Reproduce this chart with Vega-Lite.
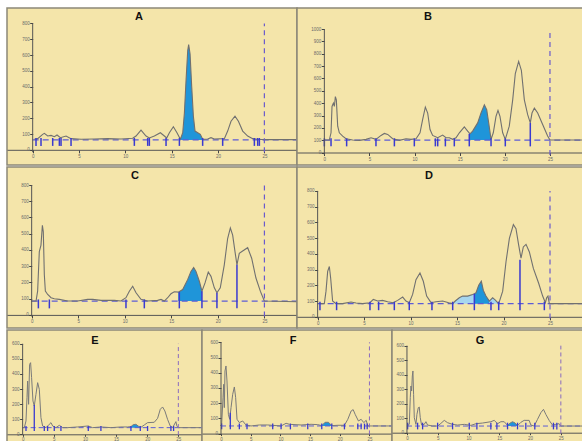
{
"$schema":"https://vega.github.io/schema/vega-lite/v6.json",
"background":"white",
"padding":{"left":6,"top":7,"right":0,"bottom":0},
"spacing":0,
"config":{
 "view":{"fill":"#F4E5AA","stroke":"#8C8878","strokeWidth":1.5},
 "concat":{"spacing":0},
 "axis":{"grid":false,"tickSize":3,"tickColor":"#444444","domainColor":"#555555","labelFontSize":4.5,"labelColor":"#6a6a6a","labelPadding":0.5,"labelFont":"Liberation Sans","labelOverlap":false,"labelBound":false,"labelFlush":false,"format":"d"},
 "axisY":{"domain":false},
 "title":{"fontSize":11,"fontWeight":"bold","font":"Liberation Sans","color":"#111111","offset":-14,"baseline":"alphabetic","anchor":"middle","frame":"group"}
},
"datasets":{
"panels":[
{"p":"A","base":62.5,"top":800,"lo":25,"start":0,"stop":28.52,"end":25,"yb":-15},
{"p":"B","base":101.3,"top":1000,"lo":50,"start":0,"stop":28.66,"end":25,"yb":-20},
{"p":"C","base":85.2,"top":800,"lo":40,"start":0,"stop":28.5,"end":25,"yb":-10},
{"p":"D","base":83.7,"top":800,"lo":42,"start":0,"stop":28.55,"end":25,"yb":-10},
{"p":"E","base":44.1,"top":600,"lo":22,"start":0,"stop":28.8,"end":25,"yb":-5},
{"p":"F","base":50.4,"top":600,"lo":28,"start":0,"stop":28.8,"end":25,"yb":-5},
{"p":"G","base":46,"top":600,"lo":23,"start":0,"stop":28.6,"end":25,"yb":-5}
],
"marks":[
{"p":"A","t":0.36,"hi":75},{"p":"A","t":0.9,"hi":75},{"p":"A","t":2.16,"hi":75},{"p":"A","t":2.88,"hi":75},{"p":"A","t":3.06,"hi":75},{"p":"A","t":4.14,"hi":75},{"p":"A","t":10.97,"hi":75},{"p":"A","t":12.41,"hi":75},{"p":"A","t":12.59,"hi":75},{"p":"A","t":14.39,"hi":75},{"p":"A","t":15.83,"hi":75},{"p":"A","t":18.34,"hi":75},{"p":"A","t":20.5,"hi":75},{"p":"A","t":23.92,"hi":75},{"p":"A","t":24.28,"hi":75},{"p":"A","t":24.46,"hi":75},
{"p":"B","t":0,"hi":115},{"p":"B","t":0.74,"hi":115},{"p":"B","t":2.47,"hi":115},{"p":"B","t":5.72,"hi":115},{"p":"B","t":7.76,"hi":115},{"p":"B","t":9.97,"hi":115},{"p":"B","t":12.3,"hi":115},{"p":"B","t":12.56,"hi":115},{"p":"B","t":13.41,"hi":115},{"p":"B","t":14.4,"hi":115},{"p":"B","t":16.06,"hi":152},{"p":"B","t":18.47,"hi":115},{"p":"B","t":20.05,"hi":115},{"p":"B","t":22.82,"hi":240},
{"p":"C","t":0.72,"hi":95},{"p":"C","t":1.9,"hi":95},{"p":"C","t":10.13,"hi":95},{"p":"C","t":12.1,"hi":95},{"p":"C","t":15.86,"hi":140},{"p":"C","t":18.29,"hi":146},{"p":"C","t":19.9,"hi":136},{"p":"C","t":22.05,"hi":308},
{"p":"D","t":0.25,"hi":96},{"p":"D","t":2.04,"hi":96},{"p":"D","t":5.63,"hi":96},{"p":"D","t":6.56,"hi":96},{"p":"D","t":8.25,"hi":96},{"p":"D","t":9.86,"hi":96},{"p":"D","t":12.3,"hi":96},{"p":"D","t":14.53,"hi":96},{"p":"D","t":16.86,"hi":146},{"p":"D","t":18.65,"hi":96},{"p":"D","t":19.48,"hi":96},{"p":"D","t":21.77,"hi":362},{"p":"D","t":24.39,"hi":96},
{"p":"E","t":0.54,"hi":55},{"p":"E","t":1.87,"hi":194},{"p":"E","t":3.48,"hi":55},{"p":"E","t":4.01,"hi":55},{"p":"E","t":5.08,"hi":55},{"p":"E","t":6.15,"hi":55},{"p":"E","t":10.54,"hi":55},{"p":"E","t":12.57,"hi":55},{"p":"E","t":17.39,"hi":55},{"p":"E","t":18.89,"hi":55},{"p":"E","t":20.06,"hi":55},{"p":"E","t":23.81,"hi":55},{"p":"E","t":24.24,"hi":55},
{"p":"F","t":0.11,"hi":66},{"p":"F","t":1.57,"hi":138},{"p":"F","t":3.09,"hi":66},{"p":"F","t":4.38,"hi":66},{"p":"F","t":8.71,"hi":66},{"p":"F","t":10.12,"hi":66},{"p":"F","t":11.69,"hi":66},{"p":"F","t":14.61,"hi":66},{"p":"F","t":16.97,"hi":66},{"p":"F","t":18.66,"hi":66},{"p":"F","t":20.79,"hi":66},{"p":"F","t":23.04,"hi":66},{"p":"F","t":23.6,"hi":66},{"p":"F","t":24.17,"hi":66},{"p":"F","t":24.62,"hi":66},
{"p":"G","t":0.11,"hi":69},{"p":"G","t":1.73,"hi":69},{"p":"G","t":2.54,"hi":69},{"p":"G","t":4.98,"hi":69},{"p":"G","t":7.41,"hi":69},{"p":"G","t":10.12,"hi":69},{"p":"G","t":11.36,"hi":69},{"p":"G","t":13.63,"hi":69},{"p":"G","t":14.61,"hi":69},{"p":"G","t":16.34,"hi":69},{"p":"G","t":17.96,"hi":69},{"p":"G","t":19.31,"hi":69},{"p":"G","t":20.77,"hi":69},{"p":"G","t":23.8,"hi":69},{"p":"G","t":24.35,"hi":69}
],
"trace":[
{"p":"A","t":0.18,"v":66.7},{"p":"A","t":0.54,"v":70.8},{"p":"A","t":1.08,"v":97.9},{"p":"A","t":1.26,"v":104.2},{"p":"A","t":1.62,"v":87.5},{"p":"A","t":1.98,"v":91.6},{"p":"A","t":2.34,"v":83.3},{"p":"A","t":2.63,"v":93.7},{"p":"A","t":2.99,"v":77.1},{"p":"A","t":3.6,"v":87.5},{"p":"A","t":4.14,"v":70.8},{"p":"A","t":5.22,"v":66.7},{"p":"A","t":6.65,"v":68.7},{"p":"A","t":8.09,"v":70.8},{"p":"A","t":9.53,"v":68.7},{"p":"A","t":10.79,"v":72.9},{"p":"A","t":11.15,"v":87.5},{"p":"A","t":11.69,"v":124.9},{"p":"A","t":12.23,"v":87.5},{"p":"A","t":12.59,"v":74.9},{"p":"A","t":13.13,"v":87.5},{"p":"A","t":13.78,"v":108.3},{"p":"A","t":14.21,"v":87.5},{"p":"A","t":14.46,"v":74.9},{"p":"A","t":14.75,"v":108.3},{"p":"A","t":15.18,"v":145.8},{"p":"A","t":15.57,"v":108.3},{"p":"A","t":15.94,"v":66.7},{"p":"A","t":16.19,"v":108.3},{"p":"A","t":16.37,"v":233.3},{"p":"A","t":16.55,"v":441.6},{"p":"A","t":16.73,"v":629.1},{"p":"A","t":16.83,"v":666.6},{"p":"A","t":16.98,"v":608.2},{"p":"A","t":17.16,"v":399.9},{"p":"A","t":17.34,"v":212.5},{"p":"A","t":17.52,"v":118.7},{"p":"A","t":17.81,"v":108.3},{"p":"A","t":18.09,"v":97.9},{"p":"A","t":18.34,"v":66.7},{"p":"A","t":18.88,"v":68.7},{"p":"A","t":19.24,"v":77.1},{"p":"A","t":19.6,"v":68.7},{"p":"A","t":20.68,"v":70.8},{"p":"A","t":21.04,"v":118.7},{"p":"A","t":21.4,"v":181.2},{"p":"A","t":21.83,"v":212.5},{"p":"A","t":22.2,"v":181.2},{"p":"A","t":22.66,"v":118.7},{"p":"A","t":23.2,"v":87.5},{"p":"A","t":23.74,"v":70.8},{"p":"A","t":24.28,"v":66.7},{"p":"A","t":25,"v":64.6},{"p":"A","t":28.42,"v":64.6},
{"p":"B","t":0,"v":101.3},{"p":"B","t":0.55,"v":101.3},{"p":"B","t":0.74,"v":160},{"p":"B","t":0.85,"v":373.4},{"p":"B","t":1.0,"v":400},{"p":"B","t":1.11,"v":373.4},{"p":"B","t":1.22,"v":453.4},{"p":"B","t":1.33,"v":426.7},{"p":"B","t":1.48,"v":213.4},{"p":"B","t":1.66,"v":160},{"p":"B","t":2.03,"v":133.4},{"p":"B","t":2.4,"v":112},{"p":"B","t":3.14,"v":101.3},{"p":"B","t":3.88,"v":98.7},{"p":"B","t":4.62,"v":106.7},{"p":"B","t":5.17,"v":120},{"p":"B","t":5.72,"v":106.7},{"p":"B","t":6.28,"v":138.7},{"p":"B","t":6.65,"v":154.7},{"p":"B","t":7.02,"v":146.7},{"p":"B","t":7.57,"v":112},{"p":"B","t":8.31,"v":98.7},{"p":"B","t":9.05,"v":112},{"p":"B","t":9.6,"v":106.7},{"p":"B","t":10.16,"v":112},{"p":"B","t":10.6,"v":160},{"p":"B","t":10.89,"v":266.7},{"p":"B","t":11.19,"v":368},{"p":"B","t":11.45,"v":320},{"p":"B","t":11.71,"v":186.7},{"p":"B","t":12.0,"v":138.7},{"p":"B","t":12.56,"v":120},{"p":"B","t":13.11,"v":141.3},{"p":"B","t":13.48,"v":120},{"p":"B","t":13.85,"v":120},{"p":"B","t":14.22,"v":106.7},{"p":"B","t":14.59,"v":120},{"p":"B","t":14.96,"v":160},{"p":"B","t":15.51,"v":208},{"p":"B","t":15.88,"v":173.4},{"p":"B","t":16.14,"v":152},{"p":"B","t":16.43,"v":173.4},{"p":"B","t":16.99,"v":240},{"p":"B","t":17.36,"v":320},{"p":"B","t":17.73,"v":386.7},{"p":"B","t":17.99,"v":346.7},{"p":"B","t":18.21,"v":240},{"p":"B","t":18.47,"v":106.7},{"p":"B","t":18.72,"v":160},{"p":"B","t":19.02,"v":293.4},{"p":"B","t":19.24,"v":341.4},{"p":"B","t":19.46,"v":293.4},{"p":"B","t":19.76,"v":160},{"p":"B","t":20.05,"v":106.7},{"p":"B","t":20.49,"v":213.4},{"p":"B","t":20.87,"v":426.7},{"p":"B","t":21.16,"v":640},{"p":"B","t":21.53,"v":738.7},{"p":"B","t":21.83,"v":666.7},{"p":"B","t":22.16,"v":426.7},{"p":"B","t":22.53,"v":306.7},{"p":"B","t":22.82,"v":240},{"p":"B","t":23.01,"v":320},{"p":"B","t":23.27,"v":360},{"p":"B","t":23.64,"v":320},{"p":"B","t":24.19,"v":226.7},{"p":"B","t":24.74,"v":133.4},{"p":"B","t":25.0,"v":101.3},{"p":"B","t":28.66,"v":101.3},
{"p":"C","t":-0.07,"v":85.2},{"p":"C","t":0.47,"v":85.2},{"p":"C","t":0.64,"v":146},{"p":"C","t":0.82,"v":389.4},{"p":"C","t":1.0,"v":430},{"p":"C","t":1.15,"v":551.6},{"p":"C","t":1.25,"v":511.1},{"p":"C","t":1.36,"v":247.4},{"p":"C","t":1.47,"v":146},{"p":"C","t":1.72,"v":125.7},{"p":"C","t":2.08,"v":105.5},{"p":"C","t":2.43,"v":99.4},{"p":"C","t":2.97,"v":95.3},{"p":"C","t":3.87,"v":85.2},{"p":"C","t":4.94,"v":85.2},{"p":"C","t":6.01,"v":95.3},{"p":"C","t":6.55,"v":95.3},{"p":"C","t":7.45,"v":89.2},{"p":"C","t":8.88,"v":89.2},{"p":"C","t":9.59,"v":85.2},{"p":"C","t":10.13,"v":105.5},{"p":"C","t":10.49,"v":146},{"p":"C","t":10.85,"v":176.4},{"p":"C","t":11.21,"v":135.9},{"p":"C","t":11.74,"v":95.3},{"p":"C","t":12.46,"v":85.2},{"p":"C","t":13.53,"v":89.2},{"p":"C","t":13.89,"v":95.3},{"p":"C","t":14.25,"v":85.2},{"p":"C","t":14.61,"v":105.5},{"p":"C","t":14.96,"v":129.8},{"p":"C","t":15.32,"v":142},{"p":"C","t":15.75,"v":139.9},{"p":"C","t":16.22,"v":156.2},{"p":"C","t":16.75,"v":217},{"p":"C","t":17.11,"v":267.7},{"p":"C","t":17.4,"v":292.1},{"p":"C","t":17.65,"v":267.7},{"p":"C","t":18.01,"v":206.9},{"p":"C","t":18.29,"v":146},{"p":"C","t":18.62,"v":196.7},{"p":"C","t":18.97,"v":263.6},{"p":"C","t":19.26,"v":237.3},{"p":"C","t":19.62,"v":166.3},{"p":"C","t":19.9,"v":135.9},{"p":"C","t":20.26,"v":166.3},{"p":"C","t":20.69,"v":308.3},{"p":"C","t":21.05,"v":470.5},{"p":"C","t":21.34,"v":535.4},{"p":"C","t":21.59,"v":490.8},{"p":"C","t":21.84,"v":389.4},{"p":"C","t":22.05,"v":308.3},{"p":"C","t":22.3,"v":379.3},{"p":"C","t":22.66,"v":393.5},{"p":"C","t":23.2,"v":413.8},{"p":"C","t":23.63,"v":348.9},{"p":"C","t":24.09,"v":227.1},{"p":"C","t":24.56,"v":146},{"p":"C","t":24.99,"v":85.2},{"p":"C","t":28.5,"v":81.1},
{"p":"D","t":0.18,"v":83.7},{"p":"D","t":0.72,"v":83.7},{"p":"D","t":0.9,"v":163.2},{"p":"D","t":1.08,"v":288.7},{"p":"D","t":1.26,"v":320.1},{"p":"D","t":1.4,"v":246.9},{"p":"D","t":1.61,"v":100.4},{"p":"D","t":1.97,"v":83.7},{"p":"D","t":2.69,"v":83.7},{"p":"D","t":3.59,"v":94.1},{"p":"D","t":4.13,"v":87.8},{"p":"D","t":4.84,"v":83.7},{"p":"D","t":5.63,"v":89.9},{"p":"D","t":5.99,"v":110.8},{"p":"D","t":6.46,"v":100.4},{"p":"D","t":6.99,"v":104.6},{"p":"D","t":7.53,"v":96.2},{"p":"D","t":8.14,"v":89.9},{"p":"D","t":8.61,"v":104.6},{"p":"D","t":9.15,"v":125.5},{"p":"D","t":9.5,"v":100.4},{"p":"D","t":9.86,"v":89.9},{"p":"D","t":10.22,"v":142.3},{"p":"D","t":10.58,"v":236.4},{"p":"D","t":11.01,"v":278.2},{"p":"D","t":11.37,"v":225.9},{"p":"D","t":11.73,"v":131.8},{"p":"D","t":12.2,"v":89.9},{"p":"D","t":12.73,"v":96.2},{"p":"D","t":13.45,"v":100.4},{"p":"D","t":14.1,"v":89.9},{"p":"D","t":14.53,"v":83.7},{"p":"D","t":14.81,"v":100.4},{"p":"D","t":15.24,"v":121.3},{"p":"D","t":15.6,"v":131.8},{"p":"D","t":16.14,"v":131.8},{"p":"D","t":16.68,"v":142.3},{"p":"D","t":16.86,"v":146.4},{"p":"D","t":17.04,"v":152.8},{"p":"D","t":17.33,"v":200.9},{"p":"D","t":17.61,"v":226},{"p":"D","t":17.83,"v":167.4},{"p":"D","t":18.11,"v":131.8},{"p":"D","t":18.47,"v":100.4},{"p":"D","t":18.83,"v":121.3},{"p":"D","t":19.12,"v":106.7},{"p":"D","t":19.48,"v":83.7},{"p":"D","t":19.91,"v":163.2},{"p":"D","t":20.27,"v":351.5},{"p":"D","t":20.63,"v":497.9},{"p":"D","t":21.06,"v":585.8},{"p":"D","t":21.34,"v":560.7},{"p":"D","t":21.63,"v":456.1},{"p":"D","t":21.88,"v":372.4},{"p":"D","t":22.13,"v":443.8},{"p":"D","t":22.42,"v":460.6},{"p":"D","t":22.78,"v":412.4},{"p":"D","t":23.21,"v":307.5},{"p":"D","t":23.78,"v":213.4},{"p":"D","t":24.21,"v":131.8},{"p":"D","t":24.5,"v":89.9},{"p":"D","t":24.64,"v":121.3},{"p":"D","t":24.78,"v":131.8},{"p":"D","t":24.93,"v":83.7},{"p":"D","t":28.55,"v":83.7},
{"p":"E","t":0,"v":44.1},{"p":"E","t":0.27,"v":44.1},{"p":"E","t":0.54,"v":88.3},{"p":"E","t":0.7,"v":242.8},{"p":"E","t":0.8,"v":353.1},{"p":"E","t":0.96,"v":198.6},{"p":"E","t":1.12,"v":463.5},{"p":"E","t":1.28,"v":474.5},{"p":"E","t":1.44,"v":375.2},{"p":"E","t":1.66,"v":220.7},{"p":"E","t":1.87,"v":187.6},{"p":"E","t":2.14,"v":264.8},{"p":"E","t":2.41,"v":342.1},{"p":"E","t":2.68,"v":297.9},{"p":"E","t":2.94,"v":110.4},{"p":"E","t":3.21,"v":55.2},{"p":"E","t":3.75,"v":44.1},{"p":"E","t":4.28,"v":66.2},{"p":"E","t":4.55,"v":77.2},{"p":"E","t":4.82,"v":55.2},{"p":"E","t":5.35,"v":44.1},{"p":"E","t":5.89,"v":59.6},{"p":"E","t":6.42,"v":44.1},{"p":"E","t":7.22,"v":44.1},{"p":"E","t":8.83,"v":48.6},{"p":"E","t":10.54,"v":55.2},{"p":"E","t":11.24,"v":44.1},{"p":"E","t":12.57,"v":48.6},{"p":"E","t":14.18,"v":44.1},{"p":"E","t":15.78,"v":48.6},{"p":"E","t":16.85,"v":48.6},{"p":"E","t":17.39,"v":50.8},{"p":"E","t":17.76,"v":64},{"p":"E","t":18.19,"v":66.2},{"p":"E","t":18.62,"v":53},{"p":"E","t":18.99,"v":46.4},{"p":"E","t":19.53,"v":61.8},{"p":"E","t":20.06,"v":77.2},{"p":"E","t":21.13,"v":79.5},{"p":"E","t":21.67,"v":105.9},{"p":"E","t":22.1,"v":165.5},{"p":"E","t":22.47,"v":181},{"p":"E","t":22.84,"v":154.5},{"p":"E","t":23.27,"v":99.3},{"p":"E","t":23.7,"v":55.2},{"p":"E","t":24.08,"v":44.1},{"p":"E","t":24.61,"v":83.9},{"p":"E","t":24.77,"v":55.2},{"p":"E","t":24.98,"v":44.1},{"p":"E","t":28.6,"v":44.1},
{"p":"F","t":-0.11,"v":50.4},{"p":"F","t":0.11,"v":61.3},{"p":"F","t":0.34,"v":236.5},{"p":"F","t":0.45,"v":324.1},{"p":"F","t":0.56,"v":170.8},{"p":"F","t":0.67,"v":411.7},{"p":"F","t":0.84,"v":444.6},{"p":"F","t":1.01,"v":346},{"p":"F","t":1.24,"v":127},{"p":"F","t":1.46,"v":94.2},{"p":"F","t":1.69,"v":170.8},{"p":"F","t":1.97,"v":258.4},{"p":"F","t":2.25,"v":306.6},{"p":"F","t":2.47,"v":236.5},{"p":"F","t":2.7,"v":94.2},{"p":"F","t":3.09,"v":72.3},{"p":"F","t":3.65,"v":83.2},{"p":"F","t":4.21,"v":56.9},{"p":"F","t":5.06,"v":50.4},{"p":"F","t":6.46,"v":56.9},{"p":"F","t":7.87,"v":56.9},{"p":"F","t":10.12,"v":50.4},{"p":"F","t":10.96,"v":67.9},{"p":"F","t":11.52,"v":61.3},{"p":"F","t":13.49,"v":56.9},{"p":"F","t":15.17,"v":61.3},{"p":"F","t":16.29,"v":59.1},{"p":"F","t":16.97,"v":52.6},{"p":"F","t":17.53,"v":74.5},{"p":"F","t":18.1,"v":74.5},{"p":"F","t":18.66,"v":52.6},{"p":"F","t":19.67,"v":54.8},{"p":"F","t":20.79,"v":54.8},{"p":"F","t":21.36,"v":94.2},{"p":"F","t":21.92,"v":149},{"p":"F","t":22.26,"v":157.7},{"p":"F","t":22.59,"v":127},{"p":"F","t":23.15,"v":83.2},{"p":"F","t":23.6,"v":94.2},{"p":"F","t":24.05,"v":72.3},{"p":"F","t":24.45,"v":87.6},{"p":"F","t":24.73,"v":50.4},{"p":"F","t":25.01,"v":50.4},{"p":"F","t":28.66,"v":50.4},
{"p":"G","t":0,"v":46},{"p":"G","t":0.38,"v":57.5},{"p":"G","t":0.54,"v":241.5},{"p":"G","t":0.65,"v":322},{"p":"G","t":0.76,"v":287.5},{"p":"G","t":0.87,"v":391},{"p":"G","t":0.97,"v":425.5},{"p":"G","t":1.08,"v":264.5},{"p":"G","t":1.19,"v":103.5},{"p":"G","t":1.46,"v":57.5},{"p":"G","t":1.62,"v":126.5},{"p":"G","t":1.84,"v":172.5},{"p":"G","t":2.0,"v":177.1},{"p":"G","t":2.16,"v":103.5},{"p":"G","t":2.38,"v":52.9},{"p":"G","t":2.81,"v":57.5},{"p":"G","t":3.08,"v":75.9},{"p":"G","t":3.35,"v":52.9},{"p":"G","t":4.17,"v":46},{"p":"G","t":4.98,"v":46},{"p":"G","t":5.52,"v":64.4},{"p":"G","t":6.06,"v":85.1},{"p":"G","t":6.6,"v":69},{"p":"G","t":7.41,"v":57.5},{"p":"G","t":8.22,"v":52.9},{"p":"G","t":9.31,"v":57.5},{"p":"G","t":10.39,"v":50.6},{"p":"G","t":11.2,"v":62.1},{"p":"G","t":12.28,"v":66.7},{"p":"G","t":13.63,"v":75.9},{"p":"G","t":14.17,"v":85.1},{"p":"G","t":14.72,"v":62.1},{"p":"G","t":15.26,"v":75.9},{"p":"G","t":15.8,"v":75.9},{"p":"G","t":16.34,"v":50.6},{"p":"G","t":16.77,"v":66.7},{"p":"G","t":17.15,"v":75.9},{"p":"G","t":17.58,"v":66.7},{"p":"G","t":17.96,"v":48.3},{"p":"G","t":18.5,"v":71.3},{"p":"G","t":19.04,"v":85.1},{"p":"G","t":19.85,"v":85.1},{"p":"G","t":20.13,"v":52.9},{"p":"G","t":20.67,"v":46},{"p":"G","t":21.21,"v":92},{"p":"G","t":21.75,"v":138},{"p":"G","t":22.18,"v":161},{"p":"G","t":22.56,"v":126.5},{"p":"G","t":23.1,"v":85.1},{"p":"G","t":23.64,"v":52.9},{"p":"G","t":24.18,"v":57.5},{"p":"G","t":24.72,"v":62.1},{"p":"G","t":25,"v":46},{"p":"G","t":28.56,"v":46}
]
},
"vconcat":[
{"hconcat":[
{"width":290,"height":157,"title":{"text":"A","dx":-13},
"layer":[
{"data":{"name":"trace"},"transform":[{"filter":"datum.p=='A' && datum.t>=15.9 && datum.t<=18.4"},{"lookup":"p","from":{"data":{"name":"panels"},"key":"p","fields":["base"]}}],
"mark":{"type":"area","color":"#1f95d9"},
"encoding":{"x":{"field":"t","type":"quantitative","scale":{"domain":[-2.77,28.52],"nice":false,"zero":false},"axis":{"values":[0,5,10,15,20,25],"offset":-15.2,"title":null}},
"y":{"field":"v","type":"quantitative","scale":{"domain":[-96,898],"nice":false,"zero":false},"axis":{"values":[0,100,200,300,400,500,600,700,800],"offset":-25.7,"title":null}},
"y2":{"field":"base"}}},
{"data":{"name":"panels"},"transform":[{"filter":"datum.p=='A'"}],"mark":{"type":"rule","color":"#5c5cd6","strokeDash":[6,4],"strokeWidth":1.2},"encoding":{"x":{"field":"start","type":"quantitative","axis":{"values":[0,5,10,15,20,25],"offset":-15.2,"title":null}},"x2":{"field":"stop"},"y":{"field":"base","type":"quantitative","axis":{"values":[0,100,200,300,400,500,600,700,800],"offset":-25.7,"title":null}}}},
{"data":{"name":"trace"},"transform":[{"filter":"datum.p=='A'"}],"mark":{"type":"line","color":"#707070","strokeWidth":1.1},"encoding":{"x":{"field":"t","type":"quantitative","axis":{"values":[0,5,10,15,20,25],"offset":-15.2,"title":null}},"y":{"field":"v","type":"quantitative","axis":{"values":[0,100,200,300,400,500,600,700,800],"offset":-25.7,"title":null}}}},
{"data":{"name":"marks"},"transform":[{"filter":"datum.p=='A'"},{"lookup":"p","from":{"data":{"name":"panels"},"key":"p","fields":["lo"]}}],"mark":{"type":"rule","color":"#3a3ad0","strokeWidth":1.5},"encoding":{"x":{"field":"t","type":"quantitative","axis":{"values":[0,5,10,15,20,25],"offset":-15.2,"title":null}},"y":{"field":"hi","type":"quantitative","axis":{"values":[0,100,200,300,400,500,600,700,800],"offset":-25.7,"title":null}},"y2":{"field":"lo"}}},
{"data":{"name":"panels"},"transform":[{"filter":"datum.p=='A'"}],"mark":{"type":"rule","color":"#555555","strokeWidth":1},"encoding":{"x":{"field":"start","type":"quantitative","axis":{"values":[0,5,10,15,20,25],"offset":-15.2,"title":null}},"y":{"field":"yb","type":"quantitative","axis":{"values":[0,100,200,300,400,500,600,700,800],"offset":-25.7,"title":null}},"y2":{"field":"top"}}},
{"data":{"name":"panels"},"transform":[{"filter":"datum.p=='A'"}],"mark":{"type":"rule","color":"#6a5acd","strokeDash":[5,4],"strokeWidth":1.2},"encoding":{"x":{"field":"end","type":"quantitative","axis":{"values":[0,5,10,15,20,25],"offset":-15.2,"title":null}},"y":{"field":"yb","type":"quantitative","axis":{"values":[0,100,200,300,400,500,600,700,800],"offset":-25.7,"title":null}},"y2":{"field":"top"}}}
]},
{"width":286,"height":157,"title":{"text":"B","dx":-12},
"layer":[
{"data":{"name":"trace"},"transform":[{"filter":"datum.p=='B' && datum.t>=16.1 && datum.t<=18.5"},{"lookup":"p","from":{"data":{"name":"panels"},"key":"p","fields":["base"]}}],
"mark":{"type":"area","color":"#1f95d9"},
"encoding":{"x":{"field":"t","type":"quantitative","scale":{"domain":[-3.03,28.66],"nice":false,"zero":false},"axis":{"values":[0,5,10,15,20,25],"offset":-12.5,"title":null}},
"y":{"field":"v","type":"quantitative","scale":{"domain":[-101,1171],"nice":false,"zero":false},"axis":{"values":[0,100,200,300,400,500,600,700,800,900,1000],"offset":-27.3,"title":null}},
"y2":{"field":"base"}}},
{"data":{"name":"panels"},"transform":[{"filter":"datum.p=='B'"}],"mark":{"type":"rule","color":"#5c5cd6","strokeDash":[6,4],"strokeWidth":1.2},"encoding":{"x":{"field":"start","type":"quantitative","axis":{"values":[0,5,10,15,20,25],"offset":-12.5,"title":null}},"x2":{"field":"stop"},"y":{"field":"base","type":"quantitative","axis":{"values":[0,100,200,300,400,500,600,700,800,900,1000],"offset":-27.3,"title":null}}}},
{"data":{"name":"trace"},"transform":[{"filter":"datum.p=='B'"}],"mark":{"type":"line","color":"#707070","strokeWidth":1.1},"encoding":{"x":{"field":"t","type":"quantitative","axis":{"values":[0,5,10,15,20,25],"offset":-12.5,"title":null}},"y":{"field":"v","type":"quantitative","axis":{"values":[0,100,200,300,400,500,600,700,800,900,1000],"offset":-27.3,"title":null}}}},
{"data":{"name":"marks"},"transform":[{"filter":"datum.p=='B'"},{"lookup":"p","from":{"data":{"name":"panels"},"key":"p","fields":["lo"]}}],"mark":{"type":"rule","color":"#3a3ad0","strokeWidth":1.5},"encoding":{"x":{"field":"t","type":"quantitative","axis":{"values":[0,5,10,15,20,25],"offset":-12.5,"title":null}},"y":{"field":"hi","type":"quantitative","axis":{"values":[0,100,200,300,400,500,600,700,800,900,1000],"offset":-27.3,"title":null}},"y2":{"field":"lo"}}},
{"data":{"name":"panels"},"transform":[{"filter":"datum.p=='B'"}],"mark":{"type":"rule","color":"#555555","strokeWidth":1},"encoding":{"x":{"field":"start","type":"quantitative","axis":{"values":[0,5,10,15,20,25],"offset":-12.5,"title":null}},"y":{"field":"yb","type":"quantitative","axis":{"values":[0,100,200,300,400,500,600,700,800,900,1000],"offset":-27.3,"title":null}},"y2":{"field":"top"}}},
{"data":{"name":"panels"},"transform":[{"filter":"datum.p=='B'"}],"mark":{"type":"rule","color":"#6a5acd","strokeDash":[5,4],"strokeWidth":1.2},"encoding":{"x":{"field":"end","type":"quantitative","axis":{"values":[0,5,10,15,20,25],"offset":-12.5,"title":null}},"y":{"field":"yb","type":"quantitative","axis":{"values":[0,100,200,300,400,500,600,700,800,900,1000],"offset":-27.3,"title":null}},"y2":{"field":"top"}}}
]}
],"bounds":"flush","spacing":0},
{"hconcat":[
{"width":290,"height":161,"title":{"text":"C","dx":-17},
"layer":[
{"data":{"name":"trace"},"transform":[{"filter":"datum.p=='C' && datum.t>=15.7 && datum.t<=18.3"},{"lookup":"p","from":{"data":{"name":"panels"},"key":"p","fields":["base"]}}],
"mark":{"type":"area","color":"#1f95d9"},
"encoding":{"x":{"field":"t","type":"quantitative","scale":{"domain":[-2.65,28.5],"nice":false,"zero":false},"axis":{"values":[0,5,10,15,20,25],"offset":-13.1,"title":null}},
"y":{"field":"v","type":"quantitative","scale":{"domain":[-81,911],"nice":false,"zero":false},"axis":{"values":[0,100,200,300,400,500,600,700,800],"offset":-24.7,"title":null}},
"y2":{"field":"base"}}},
{"data":{"name":"panels"},"transform":[{"filter":"datum.p=='C'"}],"mark":{"type":"rule","color":"#5c5cd6","strokeDash":[6,4],"strokeWidth":1.2},"encoding":{"x":{"field":"start","type":"quantitative","axis":{"values":[0,5,10,15,20,25],"offset":-13.1,"title":null}},"x2":{"field":"stop"},"y":{"field":"base","type":"quantitative","axis":{"values":[0,100,200,300,400,500,600,700,800],"offset":-24.7,"title":null}}}},
{"data":{"name":"trace"},"transform":[{"filter":"datum.p=='C'"}],"mark":{"type":"line","color":"#707070","strokeWidth":1.1},"encoding":{"x":{"field":"t","type":"quantitative","axis":{"values":[0,5,10,15,20,25],"offset":-13.1,"title":null}},"y":{"field":"v","type":"quantitative","axis":{"values":[0,100,200,300,400,500,600,700,800],"offset":-24.7,"title":null}}}},
{"data":{"name":"marks"},"transform":[{"filter":"datum.p=='C'"},{"lookup":"p","from":{"data":{"name":"panels"},"key":"p","fields":["lo"]}}],"mark":{"type":"rule","color":"#3a3ad0","strokeWidth":1.5},"encoding":{"x":{"field":"t","type":"quantitative","axis":{"values":[0,5,10,15,20,25],"offset":-13.1,"title":null}},"y":{"field":"hi","type":"quantitative","axis":{"values":[0,100,200,300,400,500,600,700,800],"offset":-24.7,"title":null}},"y2":{"field":"lo"}}},
{"data":{"name":"panels"},"transform":[{"filter":"datum.p=='C'"}],"mark":{"type":"rule","color":"#555555","strokeWidth":1},"encoding":{"x":{"field":"start","type":"quantitative","axis":{"values":[0,5,10,15,20,25],"offset":-13.1,"title":null}},"y":{"field":"yb","type":"quantitative","axis":{"values":[0,100,200,300,400,500,600,700,800],"offset":-24.7,"title":null}},"y2":{"field":"top"}}},
{"data":{"name":"panels"},"transform":[{"filter":"datum.p=='C'"}],"mark":{"type":"rule","color":"#6a5acd","strokeDash":[5,4],"strokeWidth":1.2},"encoding":{"x":{"field":"end","type":"quantitative","axis":{"values":[0,5,10,15,20,25],"offset":-13.1,"title":null}},"y":{"field":"yb","type":"quantitative","axis":{"values":[0,100,200,300,400,500,600,700,800],"offset":-24.7,"title":null}},"y2":{"field":"top"}}}
]},
{"width":286,"height":161,"title":{"text":"D","dx":-11},
"layer":[
{"data":{"name":"trace"},"transform":[{"filter":"datum.p=='D' && datum.t>=14.5 && datum.t<=19.5"},{"lookup":"p","from":{"data":{"name":"panels"},"key":"p","fields":["base"]}}],
"mark":{"type":"area","color":"#a6d6ef"},
"encoding":{"x":{"field":"t","type":"quantitative","scale":{"domain":[-2.22,28.55],"nice":false,"zero":false},"axis":{"values":[0,5,10,15,20,25],"offset":-11.2,"title":null}},
"y":{"field":"v","type":"quantitative","scale":{"domain":[-71,952],"nice":false,"zero":false},"axis":{"values":[0,100,200,300,400,500,600,700,800],"offset":-20.6,"title":null}},
"y2":{"field":"base"}}},
{"data":{"name":"trace"},"transform":[{"filter":"datum.p=='D' && datum.t>=16.8 && datum.t<=18.5"},{"lookup":"p","from":{"data":{"name":"panels"},"key":"p","fields":["base"]}}],
"mark":{"type":"area","color":"#1f95d9"},
"encoding":{"x":{"field":"t","type":"quantitative","axis":{"values":[0,5,10,15,20,25],"offset":-11.2,"title":null}},"y":{"field":"v","type":"quantitative","axis":{"values":[0,100,200,300,400,500,600,700,800],"offset":-20.6,"title":null}},"y2":{"field":"base"}}},
{"data":{"name":"panels"},"transform":[{"filter":"datum.p=='D'"}],"mark":{"type":"rule","color":"#5c5cd6","strokeDash":[6,4],"strokeWidth":1.2},"encoding":{"x":{"field":"start","type":"quantitative","axis":{"values":[0,5,10,15,20,25],"offset":-11.2,"title":null}},"x2":{"field":"stop"},"y":{"field":"base","type":"quantitative","axis":{"values":[0,100,200,300,400,500,600,700,800],"offset":-20.6,"title":null}}}},
{"data":{"name":"trace"},"transform":[{"filter":"datum.p=='D'"}],"mark":{"type":"line","color":"#707070","strokeWidth":1.1},"encoding":{"x":{"field":"t","type":"quantitative","axis":{"values":[0,5,10,15,20,25],"offset":-11.2,"title":null}},"y":{"field":"v","type":"quantitative","axis":{"values":[0,100,200,300,400,500,600,700,800],"offset":-20.6,"title":null}}}},
{"data":{"name":"marks"},"transform":[{"filter":"datum.p=='D'"},{"lookup":"p","from":{"data":{"name":"panels"},"key":"p","fields":["lo"]}}],"mark":{"type":"rule","color":"#3a3ad0","strokeWidth":1.5},"encoding":{"x":{"field":"t","type":"quantitative","axis":{"values":[0,5,10,15,20,25],"offset":-11.2,"title":null}},"y":{"field":"hi","type":"quantitative","axis":{"values":[0,100,200,300,400,500,600,700,800],"offset":-20.6,"title":null}},"y2":{"field":"lo"}}},
{"data":{"name":"panels"},"transform":[{"filter":"datum.p=='D'"}],"mark":{"type":"rule","color":"#555555","strokeWidth":1},"encoding":{"x":{"field":"start","type":"quantitative","axis":{"values":[0,5,10,15,20,25],"offset":-11.2,"title":null}},"y":{"field":"yb","type":"quantitative","axis":{"values":[0,100,200,300,400,500,600,700,800],"offset":-20.6,"title":null}},"y2":{"field":"top"}}},
{"data":{"name":"panels"},"transform":[{"filter":"datum.p=='D'"}],"mark":{"type":"rule","color":"#6a5acd","strokeDash":[5,4],"strokeWidth":1.2},"encoding":{"x":{"field":"end","type":"quantitative","axis":{"values":[0,5,10,15,20,25],"offset":-11.2,"title":null}},"y":{"field":"yb","type":"quantitative","axis":{"values":[0,100,200,300,400,500,600,700,800],"offset":-20.6,"title":null}},"y2":{"field":"top"}}}
]}
],"bounds":"flush","spacing":0},
{"hconcat":[
{"width":195,"height":112,"title":{"text":"E","dx":-9.5,"offset":-16},
"layer":[
{"data":{"name":"trace"},"transform":[{"filter":"datum.p=='E' && datum.t>=17.3 && datum.t<=19.0"},{"lookup":"p","from":{"data":{"name":"panels"},"key":"p","fields":["base"]}}],
"mark":{"type":"area","color":"#1f95d9"},
"encoding":{"x":{"field":"t","type":"quantitative","scale":{"domain":[-2.51,28.8],"nice":false,"zero":false},"axis":{"values":[0,5,10,15,20,25],"offset":-7.7,"title":null,"tickSize":2}},
"y":{"field":"v","type":"quantitative","scale":{"domain":[-51,691],"nice":false,"zero":false},"axis":{"values":[0,100,200,300,400,500,600],"offset":-15.6,"title":null}},
"y2":{"field":"base"}}},
{"data":{"name":"panels"},"transform":[{"filter":"datum.p=='E'"}],"mark":{"type":"rule","color":"#5c5cd6","strokeDash":[5,3],"strokeWidth":1},"encoding":{"x":{"field":"start","type":"quantitative","axis":{"values":[0,5,10,15,20,25],"offset":-7.7,"title":null,"tickSize":2}},"x2":{"field":"stop"},"y":{"field":"base","type":"quantitative","axis":{"values":[0,100,200,300,400,500,600],"offset":-15.6,"title":null}}}},
{"data":{"name":"trace"},"transform":[{"filter":"datum.p=='E'"}],"mark":{"type":"line","color":"#7a7a7a","strokeWidth":1},"encoding":{"x":{"field":"t","type":"quantitative","axis":{"values":[0,5,10,15,20,25],"offset":-7.7,"title":null,"tickSize":2}},"y":{"field":"v","type":"quantitative","axis":{"values":[0,100,200,300,400,500,600],"offset":-15.6,"title":null}}}},
{"data":{"name":"marks"},"transform":[{"filter":"datum.p=='E'"},{"lookup":"p","from":{"data":{"name":"panels"},"key":"p","fields":["lo"]}}],"mark":{"type":"rule","color":"#3a3ad0","strokeWidth":1.3},"encoding":{"x":{"field":"t","type":"quantitative","axis":{"values":[0,5,10,15,20,25],"offset":-7.7,"title":null,"tickSize":2}},"y":{"field":"hi","type":"quantitative","axis":{"values":[0,100,200,300,400,500,600],"offset":-15.6,"title":null}},"y2":{"field":"lo"}}},
{"data":{"name":"panels"},"transform":[{"filter":"datum.p=='E'"}],"mark":{"type":"rule","color":"#555555","strokeWidth":1},"encoding":{"x":{"field":"start","type":"quantitative","axis":{"values":[0,5,10,15,20,25],"offset":-7.7,"title":null,"tickSize":2}},"y":{"field":"yb","type":"quantitative","axis":{"values":[0,100,200,300,400,500,600],"offset":-15.6,"title":null}},"y2":{"field":"top"}}},
{"data":{"name":"panels"},"transform":[{"filter":"datum.p=='E'"}],"mark":{"type":"rule","color":"#8a6ac0","strokeDash":[4,3],"strokeWidth":1},"encoding":{"x":{"field":"end","type":"quantitative","axis":{"values":[0,5,10,15,20,25],"offset":-7.7,"title":null,"tickSize":2}},"y":{"field":"yb","type":"quantitative","axis":{"values":[0,100,200,300,400,500,600],"offset":-15.6,"title":null}},"y2":{"field":"top"}}}
]},
{"width":190,"height":112,"title":{"text":"F","dx":-4,"offset":-16},
"layer":[
{"data":{"name":"trace"},"transform":[{"filter":"datum.p=='F' && datum.t>=16.9 && datum.t<=18.7"},{"lookup":"p","from":{"data":{"name":"panels"},"key":"p","fields":["base"]}}],
"mark":{"type":"area","color":"#1f95d9"},
"encoding":{"x":{"field":"t","type":"quantitative","scale":{"domain":[-3.2,28.8],"nice":false,"zero":false},"axis":{"values":[0,5,10,15,20,25],"offset":-8.4,"title":null,"tickSize":2}},
"y":{"field":"v","type":"quantitative","scale":{"domain":[-55,681],"nice":false,"zero":false},"axis":{"values":[0,100,200,300,400,500,600],"offset":-19,"title":null}},
"y2":{"field":"base"}}},
{"data":{"name":"panels"},"transform":[{"filter":"datum.p=='F'"}],"mark":{"type":"rule","color":"#5c5cd6","strokeDash":[5,3],"strokeWidth":1},"encoding":{"x":{"field":"start","type":"quantitative","axis":{"values":[0,5,10,15,20,25],"offset":-8.4,"title":null,"tickSize":2}},"x2":{"field":"stop"},"y":{"field":"base","type":"quantitative","axis":{"values":[0,100,200,300,400,500,600],"offset":-19,"title":null}}}},
{"data":{"name":"trace"},"transform":[{"filter":"datum.p=='F'"}],"mark":{"type":"line","color":"#7a7a7a","strokeWidth":1},"encoding":{"x":{"field":"t","type":"quantitative","axis":{"values":[0,5,10,15,20,25],"offset":-8.4,"title":null,"tickSize":2}},"y":{"field":"v","type":"quantitative","axis":{"values":[0,100,200,300,400,500,600],"offset":-19,"title":null}}}},
{"data":{"name":"marks"},"transform":[{"filter":"datum.p=='F'"},{"lookup":"p","from":{"data":{"name":"panels"},"key":"p","fields":["lo"]}}],"mark":{"type":"rule","color":"#3a3ad0","strokeWidth":1.3},"encoding":{"x":{"field":"t","type":"quantitative","axis":{"values":[0,5,10,15,20,25],"offset":-8.4,"title":null,"tickSize":2}},"y":{"field":"hi","type":"quantitative","axis":{"values":[0,100,200,300,400,500,600],"offset":-19,"title":null}},"y2":{"field":"lo"}}},
{"data":{"name":"panels"},"transform":[{"filter":"datum.p=='F'"}],"mark":{"type":"rule","color":"#555555","strokeWidth":1},"encoding":{"x":{"field":"start","type":"quantitative","axis":{"values":[0,5,10,15,20,25],"offset":-8.4,"title":null,"tickSize":2}},"y":{"field":"yb","type":"quantitative","axis":{"values":[0,100,200,300,400,500,600],"offset":-19,"title":null}},"y2":{"field":"top"}}},
{"data":{"name":"panels"},"transform":[{"filter":"datum.p=='F'"}],"mark":{"type":"rule","color":"#8a6ac0","strokeDash":[4,3],"strokeWidth":1},"encoding":{"x":{"field":"end","type":"quantitative","axis":{"values":[0,5,10,15,20,25],"offset":-8.4,"title":null,"tickSize":2}},"y":{"field":"yb","type":"quantitative","axis":{"values":[0,100,200,300,400,500,600],"offset":-19,"title":null}},"y2":{"field":"top"}}}
]},
{"width":191,"height":112,"title":{"text":"G","dx":-7.5,"offset":-16},
"layer":[
{"data":{"name":"trace"},"transform":[{"filter":"datum.p=='G' && datum.t>=16.3 && datum.t<=18.0"},{"lookup":"p","from":{"data":{"name":"panels"},"key":"p","fields":["base"]}}],
"mark":{"type":"area","color":"#1f95d9"},
"encoding":{"x":{"field":"t","type":"quantitative","scale":{"domain":[-2.43,28.6],"nice":false,"zero":false},"axis":{"values":[0,5,10,15,20,25],"offset":-9.3,"title":null,"tickSize":2}},
"y":{"field":"v","type":"quantitative","scale":{"domain":[-64,708],"nice":false,"zero":false},"axis":{"values":[0,100,200,300,400,500,600],"offset":-15,"title":null}},
"y2":{"field":"base"}}},
{"data":{"name":"panels"},"transform":[{"filter":"datum.p=='G'"}],"mark":{"type":"rule","color":"#5c5cd6","strokeDash":[5,3],"strokeWidth":1},"encoding":{"x":{"field":"start","type":"quantitative","axis":{"values":[0,5,10,15,20,25],"offset":-9.3,"title":null,"tickSize":2}},"x2":{"field":"stop"},"y":{"field":"base","type":"quantitative","axis":{"values":[0,100,200,300,400,500,600],"offset":-15,"title":null}}}},
{"data":{"name":"trace"},"transform":[{"filter":"datum.p=='G'"}],"mark":{"type":"line","color":"#7a7a7a","strokeWidth":1},"encoding":{"x":{"field":"t","type":"quantitative","axis":{"values":[0,5,10,15,20,25],"offset":-9.3,"title":null,"tickSize":2}},"y":{"field":"v","type":"quantitative","axis":{"values":[0,100,200,300,400,500,600],"offset":-15,"title":null}}}},
{"data":{"name":"marks"},"transform":[{"filter":"datum.p=='G'"},{"lookup":"p","from":{"data":{"name":"panels"},"key":"p","fields":["lo"]}}],"mark":{"type":"rule","color":"#3a3ad0","strokeWidth":1.3},"encoding":{"x":{"field":"t","type":"quantitative","axis":{"values":[0,5,10,15,20,25],"offset":-9.3,"title":null,"tickSize":2}},"y":{"field":"hi","type":"quantitative","axis":{"values":[0,100,200,300,400,500,600],"offset":-15,"title":null}},"y2":{"field":"lo"}}},
{"data":{"name":"panels"},"transform":[{"filter":"datum.p=='G'"}],"mark":{"type":"rule","color":"#555555","strokeWidth":1},"encoding":{"x":{"field":"start","type":"quantitative","axis":{"values":[0,5,10,15,20,25],"offset":-9.3,"title":null,"tickSize":2}},"y":{"field":"yb","type":"quantitative","axis":{"values":[0,100,200,300,400,500,600],"offset":-15,"title":null}},"y2":{"field":"top"}}},
{"data":{"name":"panels"},"transform":[{"filter":"datum.p=='G'"}],"mark":{"type":"rule","color":"#8a6ac0","strokeDash":[4,3],"strokeWidth":1},"encoding":{"x":{"field":"end","type":"quantitative","axis":{"values":[0,5,10,15,20,25],"offset":-9.3,"title":null,"tickSize":2}},"y":{"field":"yb","type":"quantitative","axis":{"values":[0,100,200,300,400,500,600],"offset":-15,"title":null}},"y2":{"field":"top"}}}
]}
],"bounds":"flush","spacing":0}
]
}
